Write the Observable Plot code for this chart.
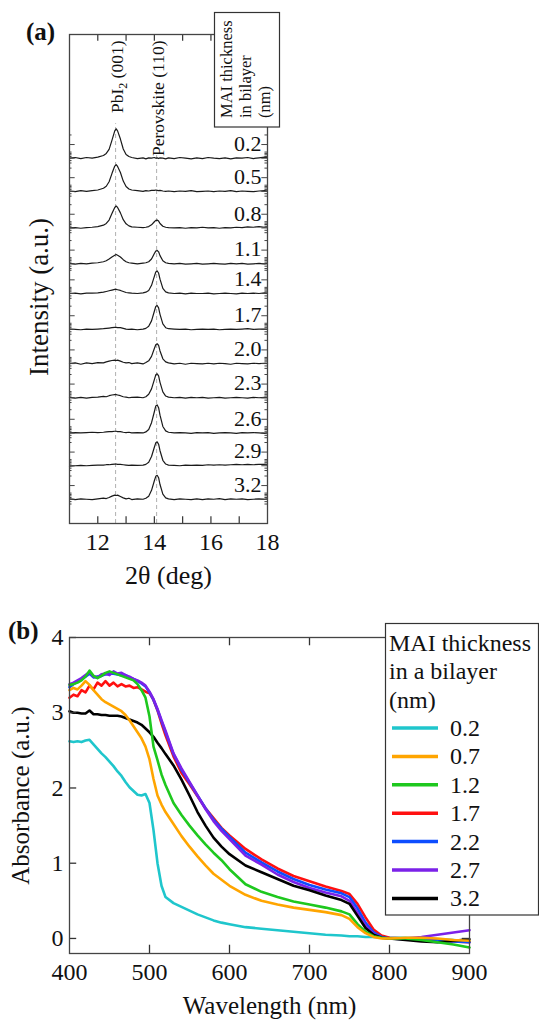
<!DOCTYPE html>
<html><head><meta charset="utf-8">
<script src="https://cdn.jsdelivr.net/npm/d3@7"></script>
<script src="https://cdn.jsdelivr.net/npm/@observablehq/plot@0.6"></script>
<style>
body{margin:0;background:#fff;}
#root{position:relative;width:539px;height:1021px;overflow:hidden;background:#fff;font-family:'Liberation Serif',serif;}
#root > svg{position:absolute;left:0;}
</style></head><body><div id="root"></div>
<script>
// ---------- Panel (a): XRD ----------
const twoTheta = [11.0,11.2,11.4,11.6,11.8,12.0,12.2,12.3,12.4,12.5,12.6,12.65,12.7,12.8,12.9,13.0,13.1,13.2,13.4,13.6,13.7,13.8,13.9,14.0,14.05,14.1,14.15,14.2,14.3,14.4,14.5,14.7,14.9,15.1,15.3,15.5,15.7,15.9,16.1,16.3,16.5,16.7,16.9,17.1,17.3,17.5,17.7,17.9,18.0];
const xrdThickness = ["0.2","0.5","0.8","1.1","1.4","1.7","2.0","2.3","2.6","2.9","3.2"];
const xrdOffset = [10.69,9.72,8.65,7.60,6.73,5.68,4.68,3.68,2.65,1.69,0.71];
const int02 = [0.00,0.02,-0.01,0.02,0.00,0.03,0.08,0.14,0.26,0.52,0.80,0.86,0.80,0.56,0.27,0.11,0.05,0.02,-0.01,0.01,-0.02,0.01,0.00,0.02,0.00,0.01,-0.01,0.01,0.00,-0.02,0.01,-0.01,0.02,0.00,-0.02,0.01,-0.01,0.02,0.00,-0.01,0.01,-0.02,0.01,0.00,0.02,-0.01,0.01,0.03,0.02];
const int05 = [0.01,-0.01,0.02,0.00,0.02,0.04,0.09,0.15,0.28,0.52,0.74,0.78,0.73,0.55,0.30,0.14,0.07,0.04,0.02,0.00,0.02,0.01,0.03,0.03,0.04,0.03,0.02,0.03,0.01,0.00,0.01,-0.01,0.01,0.00,0.02,-0.01,0.00,0.01,-0.01,0.01,0.00,0.02,-0.01,0.01,0.00,-0.01,0.01,0.02,0.01];
const int08 = [0.00,0.01,-0.01,0.01,0.02,0.04,0.08,0.13,0.23,0.42,0.60,0.64,0.60,0.44,0.24,0.12,0.06,0.03,0.02,0.01,0.02,0.04,0.09,0.18,0.22,0.23,0.20,0.13,0.05,0.02,0.01,0.00,0.01,-0.01,0.01,0.00,0.02,0.00,0.01,-0.01,0.01,0.00,0.02,0.01,0.03,0.02,0.04,0.02,0.03];
const int11 = [0.01,-0.01,0.01,0.00,0.02,0.03,0.06,0.09,0.14,0.20,0.25,0.27,0.25,0.20,0.12,0.06,0.03,0.02,0.00,0.02,0.03,0.06,0.14,0.30,0.37,0.39,0.35,0.24,0.09,0.03,0.01,0.00,0.01,-0.01,0.00,0.01,-0.01,0.00,0.01,0.00,-0.01,0.01,0.00,0.01,-0.01,0.00,0.01,0.00,0.01];
const int14 = [0.00,0.01,-0.01,0.01,0.01,0.02,0.04,0.06,0.08,0.10,0.12,0.12,0.11,0.09,0.06,0.03,0.02,0.01,0.00,0.02,0.04,0.09,0.24,0.50,0.63,0.66,0.60,0.42,0.15,0.05,0.02,0.00,0.01,-0.01,0.01,0.00,0.00,0.01,-0.01,0.00,0.01,0.00,-0.01,0.01,0.00,0.01,0.00,0.02,0.01];
const int17 = [0.01,0.00,-0.01,0.01,0.00,0.01,0.02,0.03,0.04,0.05,0.06,0.06,0.05,0.05,0.03,0.01,0.00,0.01,-0.01,0.01,0.03,0.09,0.25,0.53,0.67,0.70,0.63,0.44,0.16,0.05,0.02,0.01,0.00,0.01,-0.01,0.00,0.01,0.00,0.01,-0.01,0.00,0.01,0.00,0.01,0.02,0.00,0.01,0.01,0.00];
const int20 = [0.00,0.02,-0.02,0.02,0.00,0.03,0.02,0.05,0.07,0.09,0.10,0.09,0.10,0.07,0.04,0.02,0.03,0.00,0.02,-0.01,0.03,0.08,0.21,0.44,0.55,0.58,0.53,0.37,0.14,0.05,0.02,-0.01,0.01,-0.02,0.01,0.00,-0.01,0.01,-0.01,0.01,0.00,-0.02,0.01,0.00,-0.01,0.01,0.00,0.01,0.00];
const int23 = [0.01,-0.01,0.01,-0.01,0.01,0.02,0.04,0.03,0.06,0.08,0.09,0.09,0.08,0.06,0.03,0.02,0.00,0.01,0.02,0.00,0.03,0.10,0.26,0.53,0.67,0.70,0.64,0.45,0.17,0.05,0.02,0.00,0.01,-0.01,0.01,0.00,0.01,-0.01,0.00,0.01,-0.01,0.00,0.01,0.00,-0.01,0.01,0.00,0.01,0.00];
const int26 = [0.00,0.01,0.00,0.01,0.02,0.01,0.02,0.03,0.04,0.04,0.05,0.05,0.04,0.04,0.02,0.01,0.02,0.00,0.01,0.00,0.03,0.10,0.30,0.62,0.79,0.82,0.74,0.52,0.19,0.06,0.02,0.00,0.01,0.00,-0.01,0.01,0.00,0.01,-0.01,0.00,0.01,0.00,-0.01,0.01,0.00,0.01,0.00,-0.01,0.00];
const int29 = [-0.01,0.00,0.01,0.00,0.01,0.02,0.02,0.03,0.03,0.04,0.05,0.05,0.04,0.04,0.03,0.02,0.01,0.02,0.01,0.02,0.04,0.10,0.27,0.54,0.67,0.70,0.63,0.44,0.16,0.05,0.02,0.01,0.00,0.02,0.01,0.02,0.01,0.03,0.02,0.03,0.02,0.03,0.04,0.03,0.04,0.03,0.04,0.04,0.03];
const int32 = [0.01,-0.01,0.01,0.00,-0.01,0.01,0.03,0.02,0.05,0.09,0.12,0.11,0.12,0.08,0.04,0.01,0.03,-0.01,0.01,0.00,0.03,0.09,0.26,0.54,0.67,0.70,0.63,0.43,0.15,0.04,0.01,-0.01,0.01,0.00,-0.01,0.01,-0.01,0.01,0.00,0.02,-0.01,0.01,0.00,0.01,-0.01,0.00,0.01,0.00,0.01];
const xrdValues = [int02,int05,int08,int11,int14,int17,int20,int23,int26,int29,int32];
const peakNames = ["PbI2 (001)","Perovskite (110)"];
const peakPos = [12.63,14.08];
const peakLineTop = [11.7,10.8];
const xTicksA = [12,13,14,15,16,17];
const xLabelsA = [12,14,16,18];

// ---------- Panel (b): absorbance ----------
const wavelength = [400,405,410,415,420,425,430,435,440,445,450,455,460,465,470,475,480,485,490,495,500,505,510,515,520,530,540,550,560,570,580,590,600,620,640,660,680,700,720,740,750,760,770,780,790,800,820,840,860,880,900];
const absThickness = ["0.2","0.7","1.2","1.7","2.2","2.7","3.2"];
const absColors = ["#1fc6cc","#ffa500","#1ec81e","#ff1010","#0d4dff","#7b22e8","#000000"];
const abs02 = [2.62,2.61,2.62,2.61,2.63,2.64,2.58,2.52,2.46,2.41,2.35,2.29,2.22,2.16,2.08,2.01,1.96,1.91,1.90,1.92,1.80,1.44,1.00,0.70,0.55, 0.47,0.42,0.37,0.32,0.28,0.24,0.21,0.19, 0.15,0.13,0.11,0.09,0.07,0.05,0.04, 0.03,0.03,0.02,0.02,0.01,0.01, 0.01,0.00,-0.01,-0.02,-0.04];
const abs07 = [3.30,3.33,3.31,3.36,3.42,3.37,3.30,3.24,3.18,3.14,3.11,3.08,3.05,3.02,2.97,2.90,2.82,2.74,2.66,2.55,2.38,2.12,1.90,1.78,1.68, 1.52,1.36,1.22,1.09,0.97,0.86,0.78,0.70, 0.58,0.50,0.45,0.41,0.38,0.35,0.31, 0.26,0.15,0.07,0.02,0.00,0.00, 0.01,0.01,0.00,-0.02,-0.03];
const abs12 = [3.37,3.38,3.40,3.43,3.48,3.56,3.49,3.46,3.49,3.53,3.55,3.53,3.51,3.49,3.47,3.45,3.43,3.38,3.30,3.20,2.95,2.55,2.37,2.18,2.04, 1.80,1.64,1.50,1.37,1.25,1.14,1.04,0.92, 0.72,0.62,0.55,0.49,0.45,0.41,0.36, 0.32,0.19,0.09,0.03,0.01,0.00, 0.00,-0.02,-0.05,-0.08,-0.12];
const abs17 = [3.20,3.24,3.22,3.30,3.27,3.36,3.31,3.40,3.36,3.42,3.36,3.40,3.35,3.38,3.35,3.36,3.33,3.34,3.31,3.28,3.26,3.17,3.03,2.86,2.70, 2.42,2.20,2.05,1.89,1.73,1.60,1.47,1.37, 1.19,1.05,0.93,0.83,0.76,0.69,0.63, 0.59,0.46,0.28,0.12,0.04,0.01, 0.00,-0.01,-0.03,-0.04,-0.05];
const abs22 = [3.34,3.38,3.41,3.45,3.48,3.52,3.47,3.48,3.49,3.51,3.52,3.52,3.51,3.50,3.50,3.47,3.45,3.42,3.39,3.35,3.27,3.17,3.04,2.89,2.74, 2.45,2.24,2.07,1.90,1.73,1.58,1.46,1.35, 1.14,1.01,0.89,0.79,0.71,0.65,0.60, 0.55,0.40,0.21,0.08,0.02,0.00, -0.01,-0.02,-0.03,-0.04,-0.05];
const abs27 = [3.38,3.40,3.43,3.46,3.50,3.54,3.48,3.47,3.51,3.52,3.50,3.55,3.52,3.53,3.50,3.48,3.45,3.43,3.40,3.36,3.28,3.18,3.05,2.90,2.76, 2.46,2.26,2.08,1.90,1.72,1.56,1.43,1.32, 1.10,0.98,0.85,0.75,0.67,0.61,0.56, 0.50,0.34,0.17,0.06,0.01,0.00, 0.00,0.02,0.05,0.08,0.11];
const abs32 = [3.02,3.00,3.00,2.99,2.99,3.03,2.98,2.98,2.97,2.97,2.96,2.96,2.96,2.95,2.93,2.91,2.89,2.87,2.84,2.79,2.74,2.68,2.60,2.53,2.45, 2.30,2.11,1.90,1.68,1.50,1.34,1.22,1.12, 0.97,0.88,0.79,0.70,0.64,0.57,0.51, 0.46,0.30,0.14,0.05,0.01,0.00, -0.02,-0.04,-0.05,-0.03,-0.01];
const absValues = [abs02,abs07,abs12,abs17,abs22,abs27,abs32];
const drawOrder = [0,3,4,5,6,2,1];
const xTicksB = [500,600,700,800];
const xLabelsB = [400,500,600,700,800,900];
const yTicksB = [0,1,2,3,4];

const serif = "'Liberation Serif',serif";
const root = document.getElementById("root");
const fmt = d => String(d);

// ---- Panel (a) ----
const yTopA = 14.31;
const rowsA = xrdThickness.flatMap((lab, i) => twoTheta.map((t, j) => ({t, v: xrdOffset[i] + xrdValues[i][j], lab})));
const labelRowsA = xrdThickness.map((lab, i) => ({lab, y: xrdOffset[i] + 0.42}));
const peaks = peakNames.map((name, i) => ({name, pos: peakPos[i], top: peakLineTop[i]}));
const sidePattern = [{r:-0.14,l:0.09},{r:-0.07,l:0.09},{r:0.0,l:0.2},{r:0.05,l:0.09},{r:0.1,l:0.09},{r:0.14,l:0.09},{r:0.18,l:0.09},{r:0.4,l:0.2},{r:0.68,l:0.09}];
const sideTicks = xrdOffset.flatMap(o => sidePattern.map(p => ({y: o + p.r, l: p.l})));

const plotA = Plot.plot({
  width: 539, height: 600,
  marginLeft: 69, marginRight: 272, marginTop: 34, marginBottom: 77,
  x: {domain: [11, 18]},
  y: {domain: [0, yTopA], axis: null},
  style: {fontFamily: serif, fontSize: "24px", color: "#111", background: "white", overflow: "visible"},
  marks: [
    Plot.ruleX(peaks, {x: "pos", y1: 0, y2: "top", stroke: "#b0b0b0", strokeWidth: 1, strokeDasharray: "4,3"}),
    Plot.line(rowsA, {x: "t", y: "v", z: "lab", stroke: "#1a1a1a", strokeWidth: 1.2}),
    Plot.ruleX(xTicksA, {x: d => d, y1: 0, y2: 0.2, stroke: "#333", strokeWidth: 1.2}),
    Plot.ruleX(xTicksA, {x: d => d, y1: yTopA - 0.2, y2: yTopA, stroke: "#333", strokeWidth: 1.2}),
    Plot.ruleY(sideTicks, {y: "y", x1: 11, x2: d => 11 + d.l, stroke: "#444", strokeWidth: 1}),
    Plot.ruleY(sideTicks, {y: "y", x1: d => 18 - d.l, x2: 18, stroke: "#444", strokeWidth: 1}),
    Plot.frame({stroke: "#444", strokeWidth: 1.3}),
    Plot.text(labelRowsA, {y: "y", text: "lab", frameAnchor: "right", dx: -6, textAnchor: "end", lineAnchor: "middle", fontSize: 22, fill: "#111"}),
    Plot.text(peaks, {x: "pos", text: "name", frameAnchor: "top", dy: 6, dx: 2, rotate: -90, textAnchor: "end", lineAnchor: "middle", fontSize: 17.5, fill: "#111"}),
    Plot.axisX({ticks: xLabelsA, tickFormat: fmt, tickSize: 0, tickPadding: 9, fontSize: 24, label: null}),
    Plot.text(["2θ (deg)"], {text: d => d, frameAnchor: "bottom", dy: 52, lineAnchor: "middle", textAnchor: "middle", fontSize: 26, fill: "#111"}),
    Plot.text(["Intensity (a.u.)"], {text: d => d, frameAnchor: "left", rotate: -90, dx: -30, dy: 18, textAnchor: "middle", lineAnchor: "middle", fontSize: 27, fill: "#111"})
  ]
});
plotA.style.top = "0px";
root.appendChild(plotA);
d3.select(plotA).selectAll("text").filter(function(){ return this.textContent === "PbI2 (001)"; })
  .html('PbI<tspan dy="4" font-size="12">2</tspan><tspan dy="-4"> (001)</tspan>');

// ---- Panel (b) ----
const rowsB = drawOrder.flatMap(i => wavelength.map((w, j) => ({w, a: absValues[i][j], lab: absThickness[i], c: absColors[i]})));
const plotB = Plot.plot({
  width: 539, height: 421,
  marginLeft: 69, marginRight: 70, marginTop: 37, marginBottom: 68,
  x: {domain: [400, 900]},
  y: {domain: [-0.2, 4], axis: null},
  color: {type: "identity"},
  style: {fontFamily: serif, fontSize: "24px", color: "#111", background: "white", overflow: "visible"},
  marks: [
    Plot.line(rowsB, {x: "w", y: "a", z: "lab", stroke: "c", strokeWidth: 2.6}),
    Plot.ruleX(xTicksB, {x: d => d, y1: -0.2, y2: -0.09, stroke: "#333", strokeWidth: 1.3}),
    Plot.ruleX(xTicksB, {x: d => d, y1: 3.89, y2: 4, stroke: "#333", strokeWidth: 1.3}),
    Plot.ruleY(yTicksB, {y: d => d, x1: 400, x2: 409, stroke: "#333", strokeWidth: 1.3}),
    Plot.ruleY(yTicksB, {y: d => d, x1: 891, x2: 900, stroke: "#333", strokeWidth: 1.3}),
    Plot.frame({stroke: "#444", strokeWidth: 1.3}),
    Plot.axisX({ticks: xLabelsB, tickFormat: fmt, tickSize: 0, tickPadding: 9, fontSize: 24, label: null}),
    Plot.axisY({ticks: yTicksB, tickFormat: fmt, tickSize: 0, tickPadding: 6, fontSize: 24, label: null}),
    Plot.text(["Wavelength (nm)"], {text: d => d, frameAnchor: "bottom", dy: 52, lineAnchor: "middle", textAnchor: "middle", fontSize: 25, fill: "#111"}),
    Plot.text(["Absorbance (a.u.)"], {text: d => d, frameAnchor: "left", rotate: -90, dx: -49, textAnchor: "middle", lineAnchor: "middle", fontSize: 25, fill: "#111"})
  ]
});
plotB.style.top = "600px";
root.appendChild(plotB);

// ---- Overlay: panel letters and legends ----
const ov = d3.select(root).append("svg")
  .attr("width", 539).attr("height", 1021)
  .style("top", "0px").style("pointer-events", "none")
  .attr("font-family", serif).attr("fill", "#111");
ov.append("text").attr("x", 26).attr("y", 40).attr("font-size", 25).attr("font-weight", "bold").text("(a)");
ov.append("text").attr("x", 8).attr("y", 639).attr("font-size", 25).attr("font-weight", "bold").text("(b)");

ov.append("rect").attr("x", 214.5).attr("y", 12.5).attr("width", 65).attr("height", 114.5)
  .attr("fill", "white").attr("stroke", "#333").attr("stroke-width", 1.2);
const legA = ["MAI thickness", "in bilayer", "(nm)"];
ov.selectAll(null).data(legA).join("text")
  .attr("transform", (d, i) => `translate(${232 + i * 19},118) rotate(-90)`)
  .attr("font-size", 16.5).text(d => d);

ov.append("rect").attr("x", 385.5).attr("y", 623.5).attr("width", 153).attr("height", 291.5)
  .attr("fill", "white").attr("stroke", "#333").attr("stroke-width", 1.2);
const legB = ["MAI thickness", "in a bilayer", "(nm)"];
ov.selectAll(null).data(legB).join("text")
  .attr("x", 389).attr("y", (d, i) => 651 + i * 28.4).attr("font-size", 24).text(d => d);
const items = ov.selectAll(null).data(absThickness).join("g")
  .attr("transform", (d, i) => `translate(0,${736 + i * 28.4})`);
items.append("line").attr("x1", 392).attr("x2", 438).attr("y1", -8).attr("y2", -8)
  .attr("stroke", (d, i) => absColors[i]).attr("stroke-width", 3.5);
items.append("text").attr("x", 450).attr("y", 0).attr("font-size", 24).text(d => d);
</script>
</body></html>
